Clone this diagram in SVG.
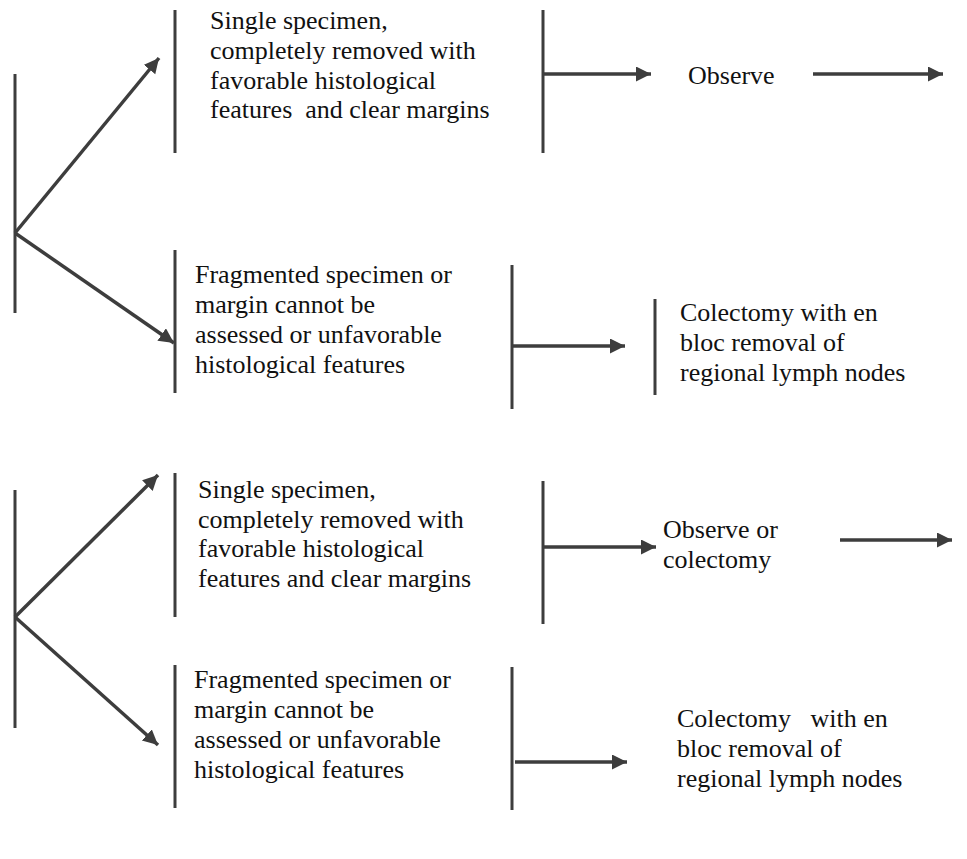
<svg xmlns="http://www.w3.org/2000/svg" width="967" height="859" viewBox="0 0 967 859">
  <style>
    .bar { stroke: #3d3d3d; stroke-width: 3; fill: none; }
    .arw { stroke: #3d3d3d; stroke-width: 3.5; fill: none; marker-end: url(#head); }
    .t { font-family: 'Times New Roman', 'Liberation Serif', 'DejaVu Serif', serif; font-size: 26px; fill: #111; }
  </style>
  <defs>
    <marker id="head" markerUnits="userSpaceOnUse" markerWidth="16" markerHeight="16" refX="15" refY="7.5" orient="auto">
      <path d="M0,0 L15,7.5 L0,15 z" fill="#3d3d3d"/>
    </marker>
  </defs>

  <rect width="967" height="859" fill="#ffffff"/>

  <!-- upper decision -->
  <g id="root-1"><line class="bar" x1="15" y1="74" x2="15" y2="313"/></g>
  <g id="single-1">
    <line class="bar" x1="175" y1="10" x2="175" y2="153"/>
    <text class="t" x="210" y="29">Single specimen,</text>
    <text class="t" x="210" y="59">completely removed with</text>
    <text class="t" x="210" y="88.5">favorable histological</text>
    <text class="t" x="210" y="118" xml:space="preserve">features  and clear margins</text>
  </g>
  <g id="split-1"><line class="bar" x1="543" y1="10" x2="543" y2="153"/></g>
  <g id="observe-1"><text class="t" x="688" y="84">Observe</text></g>
  <g id="fragmented-1">
    <line class="bar" x1="175" y1="250" x2="175" y2="393"/>
    <text class="t" x="195" y="283">Fragmented specimen or</text>
    <text class="t" x="195" y="313">margin cannot be</text>
    <text class="t" x="195" y="343">assessed or unfavorable</text>
    <text class="t" x="195" y="373">histological features</text>
  </g>
  <g id="split-2"><line class="bar" x1="512" y1="265" x2="512" y2="409"/></g>
  <g id="colectomy-1">
    <line class="bar" x1="655" y1="299" x2="655" y2="395"/>
    <text class="t" x="680" y="321">Colectomy with en</text>
    <text class="t" x="680" y="351">bloc removal of</text>
    <text class="t" x="680" y="381">regional lymph nodes</text>
  </g>

  <!-- lower decision -->
  <g id="root-2"><line class="bar" x1="15" y1="490" x2="15" y2="728"/></g>
  <g id="single-2">
    <line class="bar" x1="175" y1="473" x2="175" y2="617"/>
    <text class="t" x="198" y="498">Single specimen,</text>
    <text class="t" x="198" y="527.5">completely removed with</text>
    <text class="t" x="198" y="557">favorable histological</text>
    <text class="t" x="198" y="587">features and clear margins</text>
  </g>
  <g id="split-3"><line class="bar" x1="543" y1="481" x2="543" y2="624"/></g>
  <g id="observe-2">
    <text class="t" x="663" y="538">Observe or</text>
    <text class="t" x="663" y="568">colectomy</text>
  </g>
  <g id="fragmented-2">
    <line class="bar" x1="175" y1="665" x2="175" y2="808"/>
    <text class="t" x="194" y="688">Fragmented specimen or</text>
    <text class="t" x="194" y="718">margin cannot be</text>
    <text class="t" x="194" y="748">assessed or unfavorable</text>
    <text class="t" x="194" y="778">histological features</text>
  </g>
  <g id="split-4"><line class="bar" x1="512" y1="667" x2="512" y2="810"/></g>
  <g id="colectomy-2">
    <text class="t" x="677" y="727" xml:space="preserve">Colectomy   with en</text>
    <text class="t" x="677" y="757">bloc removal of</text>
    <text class="t" x="677" y="787">regional lymph nodes</text>
  </g>

  <g id="connectors">
    <line class="arw" x1="15" y1="233" x2="159" y2="58"/>
    <line class="arw" x1="15" y1="233" x2="174" y2="343"/>
    <line class="arw" x1="543" y1="74" x2="651" y2="74"/>
    <line class="arw" x1="813" y1="74" x2="943" y2="74"/>
    <line class="arw" x1="512" y1="346" x2="625" y2="346"/>
    <line class="arw" x1="15" y1="617" x2="158" y2="475"/>
    <line class="arw" x1="15" y1="617" x2="158" y2="745"/>
    <line class="arw" x1="543" y1="547" x2="656" y2="547"/>
    <line class="arw" x1="840" y1="540" x2="952" y2="540"/>
    <line class="arw" x1="515" y1="762" x2="627" y2="762"/>
  </g>
</svg>
